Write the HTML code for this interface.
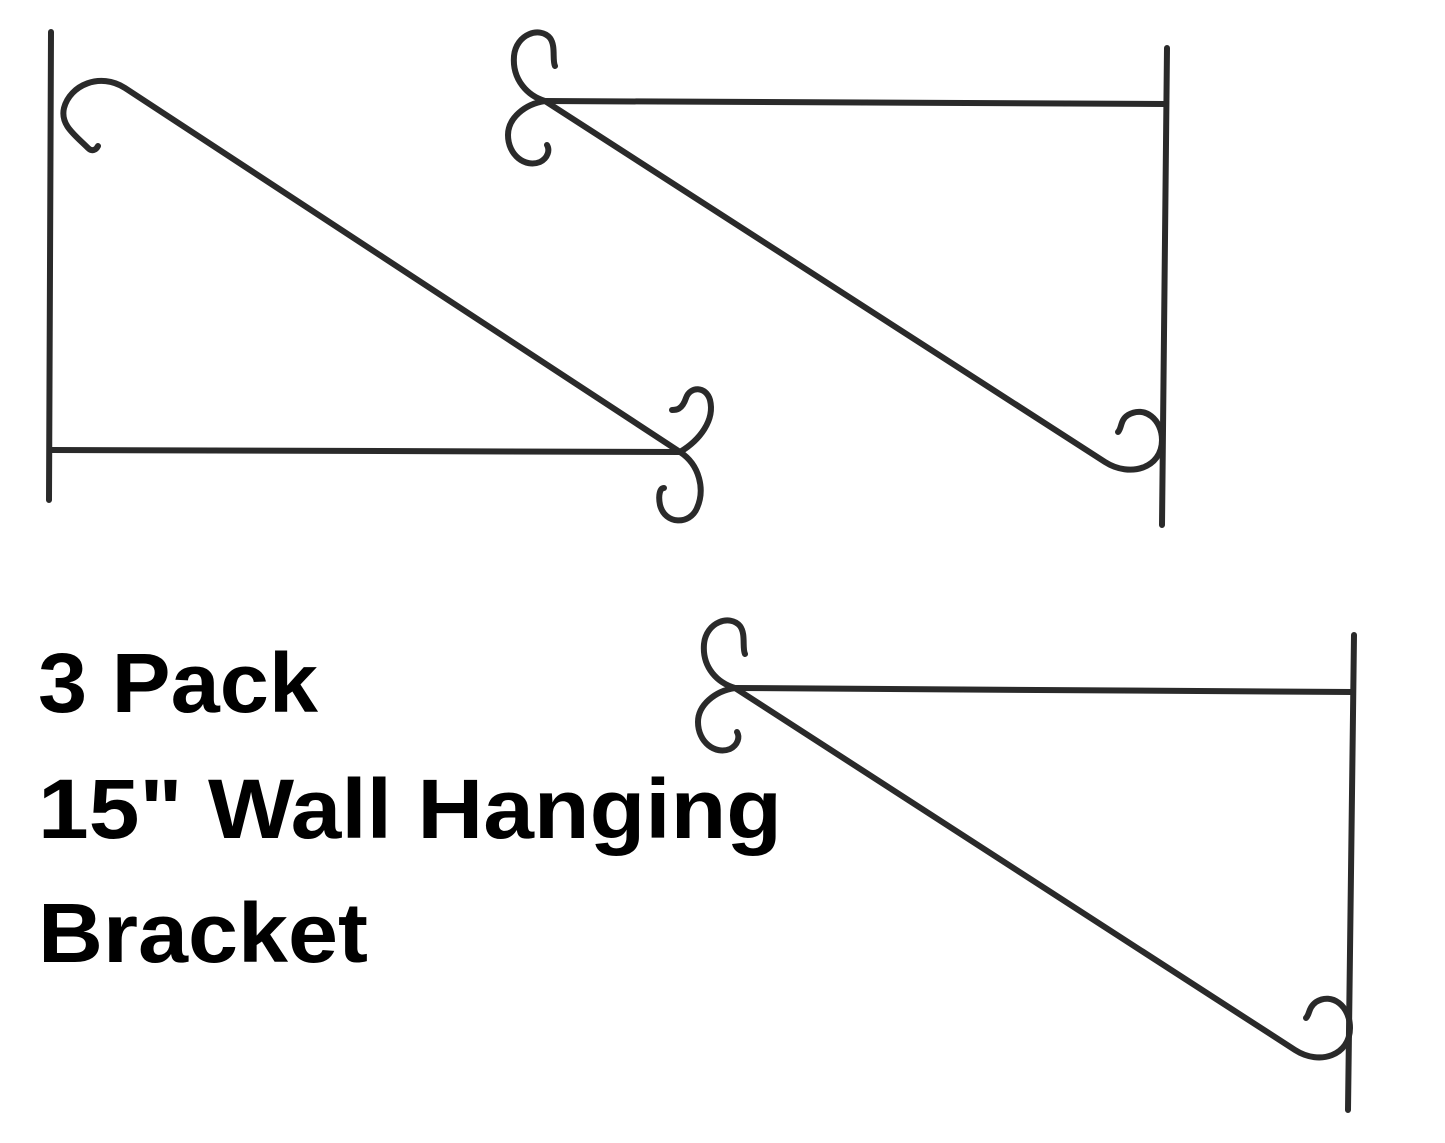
<!DOCTYPE html>
<html><head><meta charset="utf-8"><style>
html,body{margin:0;padding:0;background:#fff;}
svg{display:block;}
text{font-family:"Liberation Sans",sans-serif;font-weight:bold;fill:#000;}
</style></head><body>
<svg width="1445" height="1143" viewBox="0 0 1445 1143" xmlns="http://www.w3.org/2000/svg">
<g fill="none" stroke="#2a2a2a" stroke-width="6" stroke-linecap="round" stroke-linejoin="round">
<!-- Bracket 1 -->
<line x1="51" y1="32" x2="49" y2="500"/>
<line x1="52" y1="450" x2="680" y2="452"/>
<path d="M680 452 L125 88 C100 72 70 85 64 108 C60 125 75 135 88 148 C92 152 96 150 98 146"/>
<path d="M680 452 C700 440 715 420 710 400 C706 386 690 386 686 398 C682 410 676 410 672 410"/>
<path d="M680 452 C700 465 705 490 697 508 C690 525 665 525 660 505 C658 495 660 488 664 488"/>
<!-- Bracket 2 -->
<line x1="1167" y1="48" x2="1162" y2="525"/>
<line x1="545" y1="101" x2="1165" y2="104"/>
<path d="M545 101 L1105 462 C1130 478 1162 468 1162 440 C1162 420 1145 405 1128 415 C1120 420 1122 428 1118 432"/>
<path d="M545 101 C528 96 512 80 514 56 C516 34 540 26 550 38 C556 46 552 60 555 66"/>
<path d="M545 101 C525 104 508 118 508 135 C508 155 525 168 540 162 C548 158 550 150 547 145"/>
<!-- Bracket 3 -->
<line x1="1354" y1="635" x2="1348" y2="1110"/>
<line x1="735" y1="688" x2="1352" y2="692"/>
<path d="M735 688 L1295 1050 C1320 1066 1350 1055 1350 1028 C1350 1006 1332 992 1316 1002 C1308 1008 1310 1014 1306 1018"/>
<path d="M735 688 C718 683 702 668 704 644 C706 622 730 614 740 626 C746 634 742 648 745 654"/>
<path d="M735 688 C715 691 698 705 698 722 C698 742 715 755 730 749 C738 745 740 737 737 732"/>
</g>
<text x="38" y="712" font-size="84" textLength="280" lengthAdjust="spacingAndGlyphs">3 Pack</text>
<text x="38" y="838" font-size="84" textLength="744" lengthAdjust="spacingAndGlyphs">15" Wall Hanging</text>
<text x="38" y="962" font-size="84" textLength="330" lengthAdjust="spacingAndGlyphs">Bracket</text>
</svg>
</body></html>
